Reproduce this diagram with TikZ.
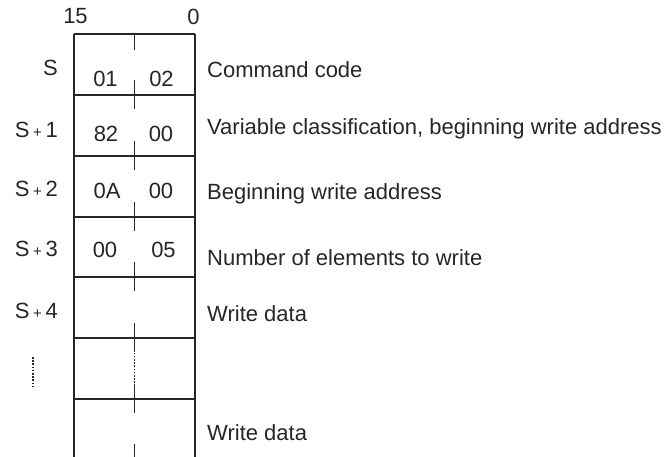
\documentclass[tikz,border=0pt]{standalone}
\usepackage{fontspec}
\setmainfont{Liberation Sans}
\usepackage{xcolor}
\usepackage{tikz}
\definecolor{inkgray}{HTML}{262626}
\newcommand{\splus}{\,{\fontsize{15}{15}\selectfont +}\,}

\begin{document}
\begin{tikzpicture}[x=1pt, y=-1pt, font=\fontsize{22}{25}\selectfont, text=inkgray,
  rule/.style={draw=inkgray, line width=1.5pt},
  dotrule/.style={draw=inkgray, line width=1.2pt, dash pattern=on 1.6pt off 1.6pt},
  rowlbl/.style={anchor=east, inner sep=0pt},
  cellval/.style={inner sep=0pt},
  desc/.style={anchor=west, inner sep=0pt}]
\useasboundingbox (0,0) rectangle (665,457);
% frame of the area
\draw[rule] (74,34) -- (195,34);
\draw[rule] (74,34) -- (74,457);
\draw[rule] (195,34) -- (195,457);
\foreach \y in {95,156,217,277,338,399}
  \draw[rule] (74,\y) -- (195,\y);
% centre ticks between bytes
\draw[rule] (134.5,34) -- (134.5,50);
\foreach \y in {95,156,217,277,338,399}
  \draw[rule] (134.5,\y-14.5) -- (134.5,\y+14.5);
\draw[rule] (134.5,444) -- (134.5,457);
\draw[dotrule] (134.5,343) -- (134.5,388);
\draw[dotrule] (33,357) -- (33,387);
% bit numbers
\node[cellval] (b15) at (75.5,16.5) {15};
\node[cellval] (b0) at (193.5,16.5) {0};
% word labels
\node[rowlbl] (w0) at (58,67.5) {S};
\node[rowlbl] (w1) at (58,129.5) {S\splus1};
\node[rowlbl] (w2) at (58,189) {S\splus2};
\node[rowlbl] (w3) at (58,249) {S\splus3};
\node[rowlbl] (w4) at (58,310.5) {S\splus4};
% byte values
\node[cellval] (hi0) at (105.5,79) {01};
\node[cellval] (lo0) at (161.5,79) {02};
\node[cellval] (hi1) at (106,134) {82};
\node[cellval] (lo1) at (161,134) {00};
\node[cellval] (hi2) at (107,191) {0A};
\node[cellval] (lo2) at (161,191) {00};
\node[cellval] (hi3) at (105,249.5) {00};
\node[cellval] (lo3) at (163.5,249.5) {05};
% descriptions
\node[desc] (d0) at (207,70) {Command code};
\node[desc] (d1) at (207,129) {Variable classification, beginning write address};
\node[desc] (d2) at (207,194) {Beginning write address};
\node[desc] (d3) at (207,257.5) {Number of elements to write};
\node[desc] (d4) at (207,313.5) {Write data};
\node[desc] (d5) at (207,432.5) {Write data};
\end{tikzpicture}
\end{document}
